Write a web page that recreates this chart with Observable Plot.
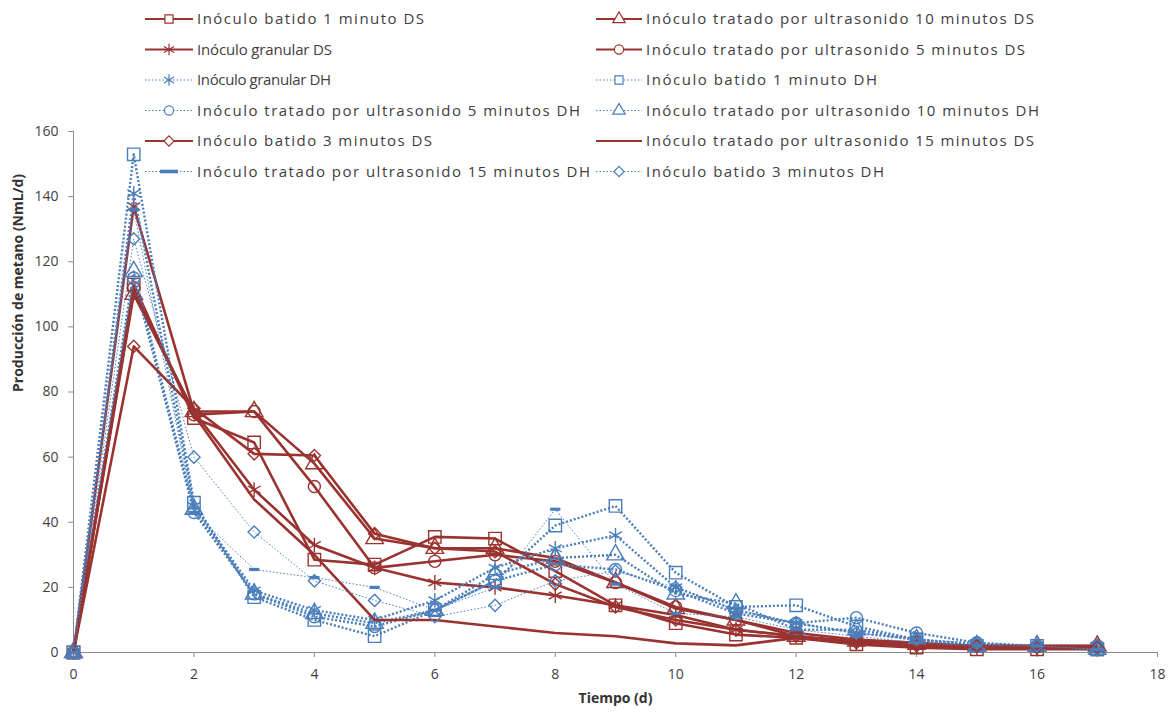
<!DOCTYPE html>
<html>
<head>
<meta charset="utf-8">
<script src="https://cdn.jsdelivr.net/npm/d3@7"></script>
<script src="https://cdn.jsdelivr.net/npm/@observablehq/plot@0.6"></script>
<style>
  html, body { margin: 0; padding: 0; background: #fff; }
  #wrap { position: relative; width: 1174px; height: 713px; overflow: hidden; }
  #legend { position: absolute; left: 0; top: 0; }
</style>
</head>
<body>
<div id="wrap"><div id="chart"></div><svg id="legend" width="1174" height="200"></svg></div>
<script>
// ---- data ----
const days = [0,1,2,3,4,5,6,7,8,9,10,11,12,13,14,15,16,17];
const seriesNames = [
  "Inóculo batido 1 minuto DS",
  "Inóculo tratado por ultrasonido 10 minutos DS",
  "Inóculo granular DS",
  "Inóculo tratado por ultrasonido 5 minutos DS",
  "Inóculo granular DH",
  "Inóculo batido 1 minuto DH",
  "Inóculo tratado por ultrasonido 5 minutos DH",
  "Inóculo tratado por ultrasonido 10 minutos DH",
  "Inóculo batido 3 minutos DS",
  "Inóculo tratado por ultrasonido 15 minutos DS",
  "Inóculo tratado por ultrasonido 15 minutos DH",
  "Inóculo batido 3 minutos DH"
];
const bat1DS  = [0,113,72,64.5,28.5,27,35.5,35,25,14.5,9,5.5,4.5,2.5,1.5,1,1,1];
const us10DS  = [0,110,74,74,58,35,32,32,29,21.5,13.5,10,5,3.5,2.5,2,2,2];
const granDS  = [0,137,74,50,33,26,21.5,20,17.5,14.5,11.5,7,5,3,2,1.5,1.5,1];
const us5DS   = [0,112,73,74,51,26,28,30,28,21.5,14,10,6,4,3,2,2,2];
const granDH  = [0,141,45,19,13,10,16,26,32,36,20,13,9,6,4,2.5,2,1.5];
const bat1DH  = [0,153,46,17,10,5,13,22,39,45,24.5,14,14.5,8,4,2,2,1];
const us5DH   = [0,115,43,18,11,8,13,22,27,25.5,19,12,9,10.7,6,3,2,2];
const us10DH  = [0,117,44,18,12,9,13,24,29,30,18,15,7,7,4,2,2,1];
const bat3DS  = [0,94,75,61,60.5,36.5,32,31,21,14,10,7,5,3,2,2,1.5,1.5];
const us15DS  = [0,111,73,47,30,10,10,8,6,5,2.8,2.2,4.5,3,2,2,2,2];
const us15DH  = [0,136,43,25.5,23,20,13,20,44,21,12,11,7,5,3,2,2,1];
const bat3DH  = [0,127,60,37,22,16,11,14.5,22,25,20,13,9,6,4,3,2,1];
const seriesValues = [bat1DS, us10DS, granDS, us5DS, granDH, bat1DH, us5DH, us10DH, bat3DS, us15DS, us15DH, bat3DH];
const xTicks = [0,2,4,6,8,10,12,14,16,18];
const yTicks = [0,20,40,60,80,100,120,140,160];
const xTitle = "Tiempo (d)";
const yTitle = "Producción de metano (NmL/d)";

// ---- styles (separate from data) ----
const RED = "#9A3330", BLUE = "#4A7EBB";
const dashSymbol = { draw(ctx, size) { const r = Math.sqrt(size / Math.PI); ctx.rect(-r * 0.85, -1.6, r * 1.7, 3.2); } };
const styleOf = {
  "Inóculo batido 1 minuto DS": {c: RED, sym: "square", r: 7, lw: 227},
  "Inóculo tratado por ultrasonido 10 minutos DS": {c: RED, sym: "triangle", r: 6.5, lw: 388},
  "Inóculo granular DS": {c: RED, sym: "asterisk", r: 7, lw: 135},
  "Inóculo tratado por ultrasonido 5 minutos DS": {c: RED, sym: "circle", r: 6, lw: 379},
  "Inóculo granular DH": {c: BLUE, sym: "asterisk", r: 7, dh: true, lw: 134},
  "Inóculo batido 1 minuto DH": {c: BLUE, sym: "square", r: 7, dh: true, lw: 231},
  "Inóculo tratado por ultrasonido 5 minutos DH": {c: BLUE, sym: "circle", r: 6, dh: true, lw: 383},
  "Inóculo tratado por ultrasonido 10 minutos DH": {c: BLUE, sym: "triangle", r: 6.5, dh: true, lw: 393},
  "Inóculo batido 3 minutos DS": {c: RED, sym: "diamond2", r: 5.5, lw: 235},
  "Inóculo tratado por ultrasonido 15 minutos DS": {c: RED, sym: null, lw: 388},
  "Inóculo tratado por ultrasonido 15 minutos DH": {c: BLUE, sym: "dash", r: 6, dh: true, thin: true, lw: 393},
  "Inóculo batido 3 minutos DH": {c: BLUE, sym: "diamond2", r: 5.5, dh: true, thin: true, lw: 238}
};

const rows = [];
seriesNames.forEach((name, i) => days.forEach((d, j) => rows.push({series: name, day: d, value: seriesValues[i][j]})));

const marks = [
  Plot.ruleX([0], {stroke: "#8c8c8c", strokeWidth: 1}),
  Plot.ruleY([0], {stroke: "#8c8c8c", strokeWidth: 1}),
  Plot.axisX({ticks: xTicks, tickSize: 5, tickPadding: 12, stroke: "#8c8c8c", color: "#404040", label: null, fontSize: 14}),
  Plot.axisY({ticks: yTicks, tickSize: 5, tickPadding: 10, stroke: "#8c8c8c", color: "#404040", label: null, fontSize: 14}),
  Plot.text([xTitle], {frameAnchor: "bottom", dy: 50, fontWeight: "bold", fontSize: 14, fill: "#333"}),
  Plot.text([yTitle], {frameAnchor: "left", dx: -55, rotate: -90, fontWeight: "bold", fontSize: 14, fill: "#333"})
];
seriesNames.forEach(name => {
  const s = styleOf[name];
  const data = rows.filter(r => r.series === name);
  marks.push(Plot.line(data, {
    x: "day", y: "value", stroke: s.c,
    strokeWidth: s.dh ? (s.thin ? 1 : 2.4) : 2.6,
    strokeDasharray: s.dh ? (s.thin ? "1.5 2" : "2 2") : null,
    strokeLinecap: "butt", strokeLinejoin: "round"
  }));
  if (s.sym === "dash") {
    marks.push(Plot.dot(data, {x: "day", y: "value", symbol: dashSymbol, r: s.r, fill: s.c, stroke: "none"}));
  } else if (s.sym) {
    marks.push(Plot.dot(data, {x: "day", y: "value", symbol: s.sym, r: s.r, fill: "none", stroke: s.c, strokeWidth: 1.4}));
  }
});

const chart = Plot.plot({
  width: 1174, height: 713,
  marginLeft: 73, marginRight: 17, marginTop: 131, marginBottom: 61,
  x: {domain: [0, 18]},
  y: {domain: [0, 160]},
  style: {fontFamily: "'Open Sans', sans-serif", fontSize: "14px", background: "transparent"},
  marks
});
document.getElementById("chart").appendChild(chart);

// ---- legend ----
const lg = d3.select("#legend");
const cols = [{x0: 145, x1: 193, tx: 197}, {x0: 596, x1: 642, tx: 646}];
const typeMap = {square: d3.symbolSquare, triangle: d3.symbolTriangle, circle: d3.symbolCircle, asterisk: d3.symbolAsterisk, diamond2: d3.symbolDiamond2};
seriesNames.forEach((name, i) => {
  const s = styleOf[name];
  const col = cols[i % 2], row = Math.floor(i / 2);
  const y = 19 + 30.5 * row;
  const g = lg.append("g");
  g.append("line").attr("x1", col.x0).attr("x2", col.x1).attr("y1", y).attr("y2", y)
    .attr("stroke", s.c).attr("stroke-width", s.dh ? 1 : 2)
    .attr("stroke-dasharray", s.dh ? "1.5 2" : null);
  const cx = (col.x0 + col.x1) / 2;
  if (s.sym === "dash") {
    g.append("rect").attr("x", cx - 9).attr("y", y - 1.8).attr("width", 18).attr("height", 3.6).attr("fill", s.c);
  } else if (s.sym) {
    const lr = s.sym === "asterisk" ? 5.5 : 4.6;
    g.append("path").attr("transform", `translate(${cx},${y})`)
      .attr("d", d3.symbol(typeMap[s.sym], Math.PI * lr * lr)())
      .attr("fill", "#fff").attr("stroke", s.c).attr("stroke-width", 1.2);
  }
  g.append("text").attr("x", col.tx).attr("y", y).attr("dy", "0.35em")
    .attr("font-family", "'Open Sans', sans-serif").attr("font-size", 15).attr("fill", "#404040")
    .attr("textLength", s.lw).attr("lengthAdjust", "spacing")
    .text(name);
});
</script>
</body>
</html>
